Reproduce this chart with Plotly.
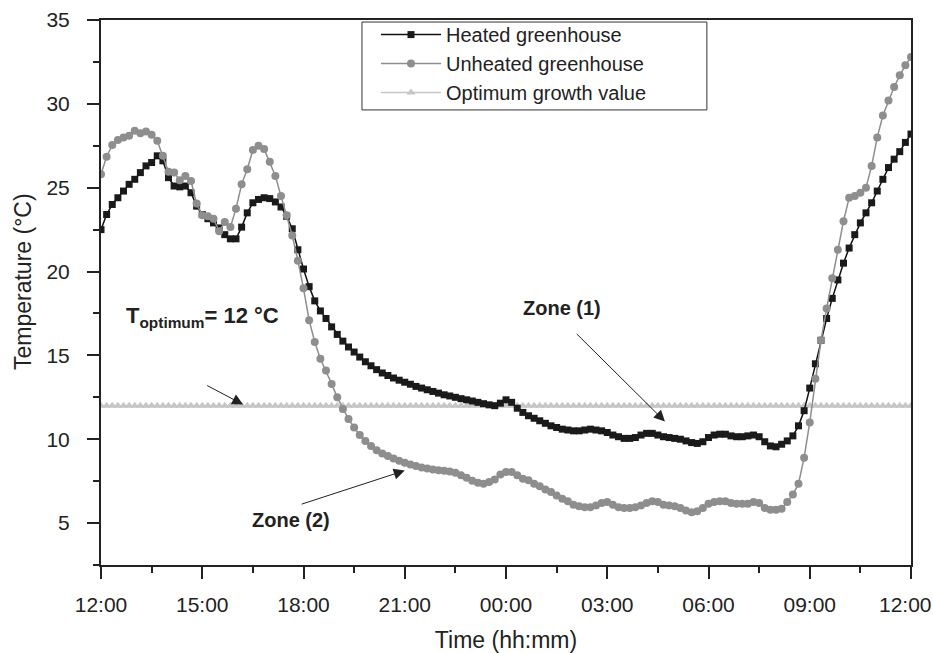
import plotly.graph_objects as go

# Time in hours since 12:00 (10-minute steps, 12:00 -> 12:00 next day)
hours = [i / 6 for i in range(145)]

heated = [
    22.5, 23.4, 24.0, 24.4, 24.8, 25.2, 25.5, 25.9, 26.3, 26.5,
    26.9, 26.6, 25.6, 25.1, 25.05, 25.1, 24.7, 23.9, 23.4, 23.15,
    22.9, 22.6, 22.2, 21.95, 21.95, 22.65, 23.5, 24.1, 24.3, 24.4,
    24.35, 24.15, 23.85, 23.3, 22.55, 21.3, 20.15, 19.1, 18.25, 17.65,
    17.2, 16.7, 16.25, 15.85, 15.5, 15.2, 14.9, 14.62, 14.38, 14.15,
    13.95, 13.8, 13.65, 13.52, 13.4, 13.28, 13.15, 13.05, 12.95, 12.85,
    12.75, 12.65, 12.58, 12.5, 12.42, 12.35, 12.28, 12.2, 12.12, 12.05,
    12.0, 12.15, 12.35, 12.2, 11.85, 11.6, 11.4, 11.25, 11.1, 10.95,
    10.8, 10.7, 10.6, 10.55, 10.5, 10.5, 10.55, 10.6, 10.55, 10.5,
    10.4, 10.25, 10.15, 10.05, 10.05, 10.1, 10.25, 10.35, 10.35, 10.25,
    10.15, 10.1, 10.05, 10.0, 9.9, 9.8, 9.75, 9.85, 10.1, 10.25,
    10.3, 10.3, 10.2, 10.15, 10.15, 10.2, 10.25, 10.15, 9.85, 9.6,
    9.55, 9.7, 9.9, 10.2, 10.8, 11.7, 13.05, 14.5, 15.9, 17.2,
    18.4, 19.5, 20.5, 21.4, 22.2, 22.9, 23.5, 24.1, 24.8, 25.5,
    26.2, 26.7, 27.15, 27.7, 28.2,
]

unheated = [
    25.8, 26.85, 27.55, 27.85, 28.0, 28.1, 28.4, 28.25, 28.35, 28.15,
    27.8, 26.9, 25.95, 25.9, 25.45, 25.7, 25.4, 24.05, 23.35, 23.3,
    23.15, 22.4, 22.95, 22.65, 23.75, 25.2, 26.1, 27.25, 27.5, 27.3,
    26.55, 25.7, 24.5, 23.35, 22.15, 20.65, 19.0, 17.1, 15.8, 14.8,
    14.1, 13.3, 12.5, 11.8, 11.2, 10.7, 10.25, 9.9, 9.6, 9.35,
    9.15, 9.0, 8.85, 8.72, 8.6, 8.5, 8.4, 8.32, 8.25, 8.2,
    8.15, 8.12, 8.08, 8.0, 7.85, 7.7, 7.52, 7.4, 7.35, 7.45,
    7.6, 7.9, 8.05, 8.05, 7.85, 7.65, 7.55, 7.35, 7.2, 7.0,
    6.85, 6.65, 6.45, 6.3, 6.1, 6.0, 5.95, 5.95, 6.05, 6.2,
    6.25, 6.1, 5.95, 5.9, 5.9, 5.95, 6.05, 6.2, 6.3, 6.25,
    6.1, 6.05, 6.0, 5.9, 5.75, 5.65, 5.7, 5.9, 6.15, 6.25,
    6.3, 6.3, 6.2, 6.15, 6.15, 6.15, 6.25, 6.2, 5.9, 5.8,
    5.8, 5.85, 6.25, 6.7, 7.35, 8.9, 11.0, 13.6, 15.9, 17.8,
    19.6, 21.3, 23.0, 24.4, 24.5, 24.7, 25.0, 26.3, 28.0, 29.3,
    30.2, 31.0, 31.7, 32.3, 32.8,
]

optimum = [12.0] * len(hours)

tick_hours = [0, 3, 6, 9, 12, 15, 18, 21, 24]
tick_labels = ["12:00", "15:00", "18:00", "21:00", "00:00", "03:00", "06:00", "09:00", "12:00"]
y_ticks = [5, 10, 15, 20, 25, 30, 35]

FONT = "Liberation Sans, Arial, sans-serif"
INK = "#222222"
TICK_FONT = dict(family=FONT, size=21, color=INK)

# the last label sits on the right frame edge: it is drawn as an annotation nudged inside the page
tick_text = tick_labels[:-1] + [""]

fig = go.Figure()
fig.add_trace(go.Scatter(
    x=hours, y=optimum, mode="lines+markers", name="Optimum growth value",
    line=dict(color="#c6c6c6", width=1.5),
    marker=dict(symbol="triangle-up", size=8, color="#c6c6c6"),
    legendrank=3,
))
fig.add_trace(go.Scatter(
    x=hours, y=heated, mode="lines+markers", name="Heated greenhouse",
    line=dict(color="#111111", width=1.5),
    marker=dict(symbol="square", size=7, color="#1a1a1a"),
    legendrank=1,
))
fig.add_trace(go.Scatter(
    x=hours, y=unheated, mode="lines+markers", name="Unheated greenhouse",
    line=dict(color="#8e8e8e", width=1.5),
    marker=dict(symbol="circle", size=8, color="#8e8e8e"),
    legendrank=2,
))

axis_common = dict(
    showline=True, linecolor=INK, linewidth=2, mirror=True,
    showgrid=False, zeroline=False, ticks="outside", tickcolor=INK,
    tickwidth=2, automargin=False,
)

fig.update_xaxes(
    range=[0, 24], tickvals=tick_hours, ticktext=tick_text, ticklen=12,
    tickfont=TICK_FONT, ticklabelstandoff=8,
    minor=dict(dtick=1.5, tick0=0, ticks="outside", ticklen=6, tickwidth=2, tickcolor=INK),
    title=dict(text="Time (hh:mm)", font=dict(family=FONT, size=23, color=INK), standoff=24),
    **axis_common,
)
fig.update_yaxes(
    range=[2.5, 35], tickvals=y_ticks, ticklen=12,
    tickfont=TICK_FONT, ticklabelstandoff=13,
    minor=dict(dtick=2.5, tick0=0, ticks="outside", ticklen=6, tickwidth=2, tickcolor=INK),
    **axis_common,
)

ann_font = dict(family=FONT, size=20, color=INK)
arrow_style = dict(showarrow=True, arrowhead=2, arrowsize=2.2, arrowwidth=1, arrowcolor=INK, text="")
annotations = [
    # last x tick label
    dict(x=tick_hours[-1], y=0, xref="x", yref="paper", xanchor="center", yanchor="top",
         xshift=-6, yshift=-26, text=tick_labels[-1], showarrow=False, font=TICK_FONT),
    # y-axis title
    dict(x=-0.097, y=0.52, xref="paper", yref="paper", xanchor="center", yanchor="middle",
         text="Temperature (°C)", textangle=-90, showarrow=False,
         font=dict(family=FONT, size=23, color=INK)),
    dict(x=3.0, y=17.3, xref="x", yref="y", showarrow=False,
         text="<b>T<sub>optimum</sub>= 12 °C</b>", font=dict(family=FONT, size=22, color=INK)),
    dict(x=4.21, y=12.07, ax=3.1, ay=13.25, xref="x", yref="y", axref="x", ayref="y", **arrow_style),
    dict(x=13.65, y=17.8, xref="x", yref="y", showarrow=False, text="<b>Zone (1)</b>", font=ann_font),
    dict(x=16.71, y=11.06, ax=14.05, ay=16.37, xref="x", yref="y", axref="x", ayref="y", **arrow_style),
    dict(x=5.63, y=5.16, xref="x", yref="y", showarrow=False, text="<b>Zone (2)</b>", font=ann_font),
    dict(x=9.0, y=8.13, ax=5.9, ay=6.1, xref="x", yref="y", axref="x", ayref="y", **arrow_style),
]

# legend frame
shapes = [dict(type="rect", xref="paper", yref="paper", x0=0.3222, x1=0.748, y0=0.835, y1=0.9963,
               line=dict(color="#333333", width=1), fillcolor="rgba(0,0,0,0)", layer="above")]

fig.update_layout(
    width=933, height=653,
    margin=dict(l=101, r=22, t=20, b=88),
    plot_bgcolor="white", paper_bgcolor="white",
    font=dict(family=FONT, color=INK),
    showlegend=True,
    legend=dict(
        x=0.3395, y=1.009, xanchor="left", yanchor="top",
        bgcolor="rgba(0,0,0,0)", borderwidth=0,
        font=dict(family=FONT, size=20, color=INK),
        itemwidth=60,
    ),
    annotations=annotations,
    shapes=shapes,
)

fig.write_html("out.html")
